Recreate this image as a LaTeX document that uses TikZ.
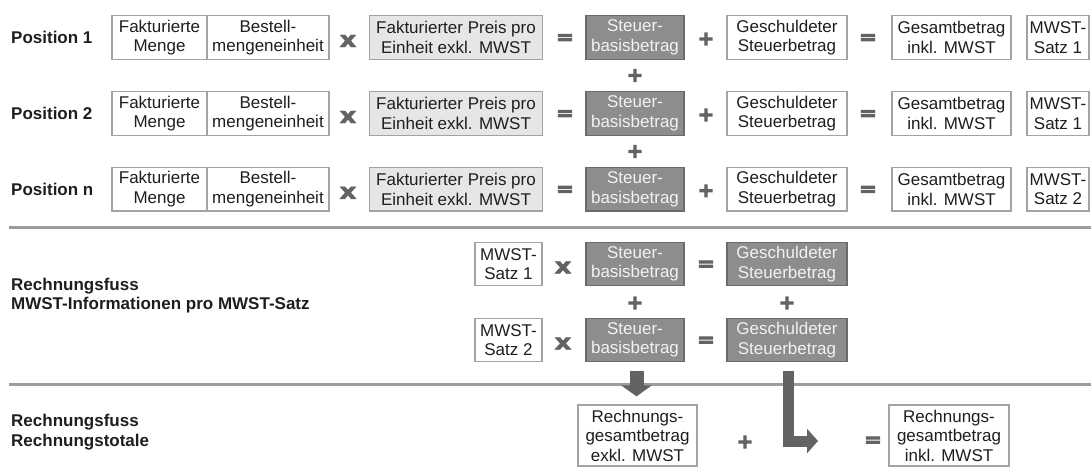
\documentclass[tikz,border=0pt]{standalone}
\usepackage{fontspec}
\setmainfont{Liberation Sans}
\newfontfamily\opfont[UprightFont={* Bold}, FakeBold=2]{DejaVu Sans}
\newfontfamily\opfontb[UprightFont={* Bold}, FakeBold=6]{DejaVu Sans}
\usetikzlibrary{arrows.meta}
\definecolor{txt}{HTML}{1E1E1E}
\definecolor{boxline}{HTML}{A3A3A3}
\definecolor{lightfill}{HTML}{E6E6E6}
\definecolor{darkfill}{HTML}{8D8D8F}
\definecolor{darkline}{HTML}{6A6A6A}
\definecolor{darktxt}{HTML}{F2F2F2}
\definecolor{opgray}{HTML}{636363}
\definecolor{sepgray}{HTML}{9C9C9C}
\newcommand\fsnorm{\fontsize{17}{19.5}\selectfont}
\newcommand\fsx{\fontsize{22}{22}\selectfont\opfont}
\newcommand\fsop{\fontsize{19}{19}\selectfont\opfontb}
\begin{document}
\begin{tikzpicture}[x=1pt,y=-1pt,
  every node/.style={font=\fsnorm, text=txt},
  bx/.style={draw=boxline, line width=1.2pt, fill=white, inner sep=0pt, minimum height=43.5pt, align=center},
  lt/.style={bx, fill=lightfill},
  dk/.style={bx, fill=darkfill, draw=darkline, text=darktxt},
  tall/.style={minimum height=61pt},
  op/.style={text=opgray, font=\fsop, inner sep=0pt},
  opx/.style={text=opgray, font=\fsx, inner sep=0pt},
  lbl/.style={anchor=west, font=\fsnorm\bfseries, align=left, inner sep=0pt},
  sep/.style={draw=sepgray, line width=3pt},
  fat/.style={draw=opgray, -{Triangle[length=11pt,width=#1]}, line join=miter}
]
\useasboundingbox (0,0) rectangle (1091,475);

% ---------- Positionen ----------
\foreach \r/\i/\lab/\satz in {37.5/1/Position 1/1, 113.5/2/Position 2/1, 189.3/3/Position n/2}{
  \node[lbl] (pl\i) at (11,\r) {\lab};
  \node[bx, minimum width=95pt] (fm\i) at (159.5,\r) {Fakturierte\\Menge};
  \node[bx, minimum width=122pt] (bm\i) at (268,\r) {Bestell-\\mengeneinheit};
  \node[opx] (ox\i) at (348,\r+3.5) {\scalebox{1.2}[1]{x}};
  \node[lt, minimum width=173.5pt] (pr\i) at (456,\r) {Fakturierter Preis pro\\Einheit exkl. MWST};
  \node[op] (oe\i) at (565,\r+1.5) {\scalebox{1.1}[1]{=}};
  \node[dk, minimum width=98pt] (sb\i) at (635,\r) {Steuer-\\basisbetrag};
  \node[op] (op\i) at (706,\r+1.5) {+};
  \node[bx, minimum width=120pt] (gs\i) at (787,\r) {Geschuldeter\\Steuerbetrag};
  \node[op] (oq\i) at (868,\r+1.5) {\scalebox{1.1}[1]{=}};
  \node[bx, minimum width=119pt] (ge\i) at (951.5,\r) {Gesamtbetrag\\inkl. MWST};
  \node[bx, minimum width=62pt] (mw\i) at (1058,\r) {MWST-\\Satz \satz};
}
\node[op] (pa) at (635,75.5) {+};
\node[op] (pb) at (635,151.5) {+};

\path[sep] (9,227) -- (1091,227);

% ---------- MWST-Informationen ----------
\node[lbl] (l2) at (11,295.5) {\fontsize{17}{18}\selectfont Rechnungsfuss\\MWST-Informationen pro MWST-Satz};
\foreach \r/\i in {264/1, 340/2}{
  \node[bx, minimum width=67pt] (ms\i) at (508.5,\r) {MWST-\\Satz \i};
  \node[opx] (mx\i) at (563,\r+3.5) {\scalebox{1.2}[1]{x}};
  \node[dk, minimum width=98pt] (st\i) at (635,\r) {Steuer-\\basisbetrag};
  \node[op] (me\i) at (706,\r+1.5) {\scalebox{1.1}[1]{=}};
  \node[dk, minimum width=120pt] (gd\i) at (787,\r) {Geschuldeter\\Steuerbetrag};
}
\node[op] (pc) at (635,303) {+};
\node[op] (pd) at (787,303) {+};

\path[sep] (9,384) -- (1091,384);

% ---------- Rechnungstotale ----------
\node[lbl] (l3) at (11,432) {\fontsize{17}{18}\selectfont Rechnungsfuss\\Rechnungstotale};
\node[bx, tall, minimum width=119pt] (rex) at (637.5,435.5) {Rechnungs-\\gesamtbetrag\\exkl. MWST};
\node[op] (pe) at (745,442) {+};
\node[op] (qe) at (873,441.5) {\scalebox{1.1}[1]{=}};
\node[bx, tall, minimum width=120pt] (rin) at (949,435.5) {Rechnungs-\\gesamtbetrag\\inkl. MWST};

% arrows
\draw[fat=30pt, line width=14pt, shorten <=9pt, shorten >=8pt] ([xshift=1.5pt]st2.south) -- ([xshift=1.5pt]st2.south |- rex.north);
\coordinate (lend) at (818,441);
\draw[fat=24pt, line width=11pt, shorten <=9pt] ([xshift=1pt]gd2.south) -- ([xshift=1pt]gd2.south |- lend) -- (lend);
\end{tikzpicture}
\end{document}
